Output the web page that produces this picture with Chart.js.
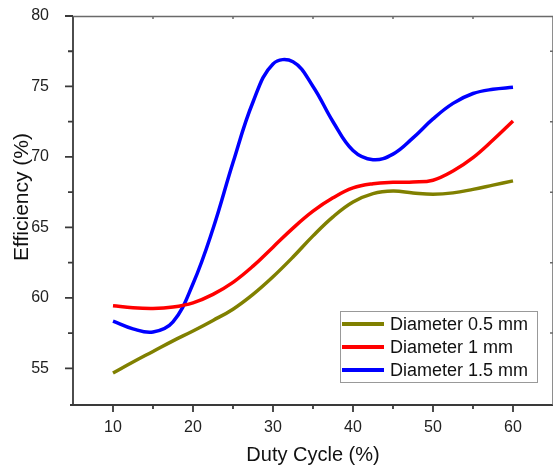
<!DOCTYPE html>
<html>
<head>
<meta charset="utf-8">
<script src="https://cdn.jsdelivr.net/npm/chart.js@4"></script>
<style>
  body { margin: 0; background: #fff; }
  canvas { display: block; }
</style>
</head>
<body>
<canvas id="effChart" width="553" height="468"></canvas>
<script>
// values (every 2.5 % duty cycle)
const dutyCycle = [10, 12.5, 15, 17.5, 20, 22.5, 25, 27.5, 30, 32.5, 35, 37.5, 40, 42.5, 45, 47.5, 50, 52.5, 55, 57.5, 60];
const eff05 = [54.67, 55.45, 56.2, 56.95, 57.65, 58.4, 59.2, 60.25, 61.5, 62.9, 64.4, 65.75, 66.8, 67.4, 67.58, 67.45, 67.36, 67.45, 67.7, 68.0, 68.3];
const eff10 = [59.45, 59.3, 59.25, 59.35, 59.65, 60.25, 61.1, 62.25, 63.6, 64.95, 66.15, 67.1, 67.8, 68.1, 68.2, 68.22, 68.35, 69.0, 69.95, 71.2, 72.55];
const eff15 = [58.35, 57.8, 57.58, 58.3, 61.0, 64.9, 69.6, 73.9, 76.6, 76.75, 75.0, 72.5, 70.45, 69.8, 70.2, 71.35, 72.7, 73.8, 74.5, 74.8, 74.94];

const xTicks = [10, 20, 30, 40, 50, 60];
const xMinor = [15, 25, 35, 45, 55];
const yTicks = [55, 60, 65, 70, 75, 80];
const yMinor = [57.5, 62.5, 67.5, 72.5, 77.5];

const toPoints = arr => arr.map((v, i) => ({ x: dutyCycle[i], y: v }));

// axis frame + minor ticks like the origin plot
const frame = {
    id: 'frame',
    afterDraw(chart) {
        const { ctx, chartArea: a, scales: { x, y } } = chart;
        ctx.save();
        ctx.strokeStyle = '#3a3a3a';
        ctx.lineWidth = 1.8;
        ctx.beginPath();
        ctx.moveTo(a.left, a.top);
        ctx.lineTo(a.left, a.bottom + 1);
        ctx.moveTo(a.left - 3, a.bottom);
        ctx.lineTo(a.right, a.bottom);
        xTicks.forEach(v => {
            const px = x.getPixelForValue(v);
            ctx.moveTo(px, a.bottom);
            ctx.lineTo(px, a.bottom + 7);
        });
        xMinor.forEach(v => {
            const px = x.getPixelForValue(v);
            ctx.moveTo(px, a.bottom);
            ctx.lineTo(px, a.bottom + 4);
        });
        yTicks.forEach(v => {
            const py = y.getPixelForValue(v);
            ctx.moveTo(a.left, py);
            ctx.lineTo(a.left - 8, py);
        });
        yMinor.forEach(v => {
            const py = y.getPixelForValue(v);
            ctx.moveTo(a.left, py);
            ctx.lineTo(a.left - 5, py);
        });
        ctx.stroke();

        // top and right (right one sits at the canvas edge)
        ctx.strokeStyle = '#6a6a6a';
        ctx.lineWidth = 1.5;
        ctx.beginPath();
        ctx.moveTo(a.left, a.top + 0.5);
        ctx.lineTo(a.right, a.top + 0.5);
        ctx.moveTo(a.right, a.top);
        ctx.lineTo(a.right, a.bottom);
        xMinor.forEach(v => {
            const px = x.getPixelForValue(v);
            ctx.moveTo(px, a.top);
            ctx.lineTo(px, a.top + 3);
        });
        yMinor.forEach(v => {
            const py = y.getPixelForValue(v);
            ctx.moveTo(a.right, py);
            ctx.lineTo(a.right - 3, py);
        });
        ctx.stroke();

        // y title
        ctx.fillStyle = '#111';
        ctx.font = '21px "Liberation Sans", Arial, sans-serif';
        ctx.textAlign = 'center';
        ctx.textBaseline = 'middle';
        ctx.translate(22, 197);
        ctx.rotate(-Math.PI / 2);
        ctx.fillText('Efficiency (%)', 0, 0);
        ctx.restore();

        // legend box
        ctx.save();
        const lx = 340, ly = 311, lw = 197, lh = 71;
        ctx.fillStyle = '#fff';
        ctx.fillRect(lx, ly, lw, lh);
        ctx.strokeStyle = '#999';
        ctx.lineWidth = 1;
        ctx.strokeRect(lx + 0.5, ly + 0.5, lw, lh);
        ctx.font = '18px "Liberation Sans", Arial, sans-serif';
        ctx.textBaseline = 'middle';
        ctx.textAlign = 'left';
        chart.data.datasets.forEach((ds, i) => {
            const ry = ly + 13 + i * 23;
            ctx.strokeStyle = ds.borderColor;
            ctx.lineWidth = 4;
            ctx.beginPath();
            ctx.moveTo(lx + 2, ry);
            ctx.lineTo(lx + 44, ry);
            ctx.stroke();
            ctx.fillStyle = '#111';
            ctx.fillText(ds.label, lx + 50, ry + 1);
        });
        ctx.restore();
    }
};

const ctx = document.getElementById('effChart').getContext('2d');

const effChart = new Chart(ctx, {
    type: 'line',
    data: {
        datasets: [
            {
                label: 'Diameter 0.5 mm',
                data: toPoints(eff05),
                borderColor: '#808000',
            },
            {
                label: 'Diameter 1 mm',
                data: toPoints(eff10),
                borderColor: '#ff0000',
            },
            {
                label: 'Diameter 1.5 mm',
                data: toPoints(eff15),
                borderColor: '#0000ff',
            }
        ]
    },
    options: {
        responsive: false,
        animation: false,
        layout: { padding: { top: 16, right: 0, left: 0, bottom: 0 } },
        elements: {
            line: { borderWidth: 3.5, tension: 0.4, fill: false },
            point: { radius: 0 }
        },
        scales: {
            x: {
                type: 'linear',
                min: 5,
                max: 65,
                afterBuildTicks: s => { s.ticks = xTicks.map(v => ({ value: v })); },
                afterFit: s => { s.height = 63; s.paddingLeft = 0; s.paddingRight = 0; },
                grid: { display: false },
                border: { display: false },
                ticks: {
                    font: { size: 16, family: '"Liberation Sans", Arial, sans-serif' },
                    color: '#222',
                    padding: 5,
                    maxRotation: 0
                },
                title: {
                    display: true,
                    text: 'Duty Cycle (%)',
                    font: { size: 20, family: '"Liberation Sans", Arial, sans-serif' },
                    color: '#111',
                    padding: { top: 0, bottom: 1 }
                }
            },
            y: {
                min: 52.4,
                max: 80,
                afterBuildTicks: s => { s.ticks = yTicks.map(v => ({ value: v })); },
                afterFit: s => { s.width = 73; s.paddingTop = 0; s.paddingBottom = 0; },
                grid: { display: false },
                border: { display: false },
                ticks: {
                    font: { size: 16, family: '"Liberation Sans", Arial, sans-serif' },
                    color: '#222',
                    padding: 16
                }
            }
        },
        plugins: {
            legend: { display: false },
            tooltip: { enabled: false }
        }
    },
    plugins: [frame]
});
</script>
</body>
</html>
